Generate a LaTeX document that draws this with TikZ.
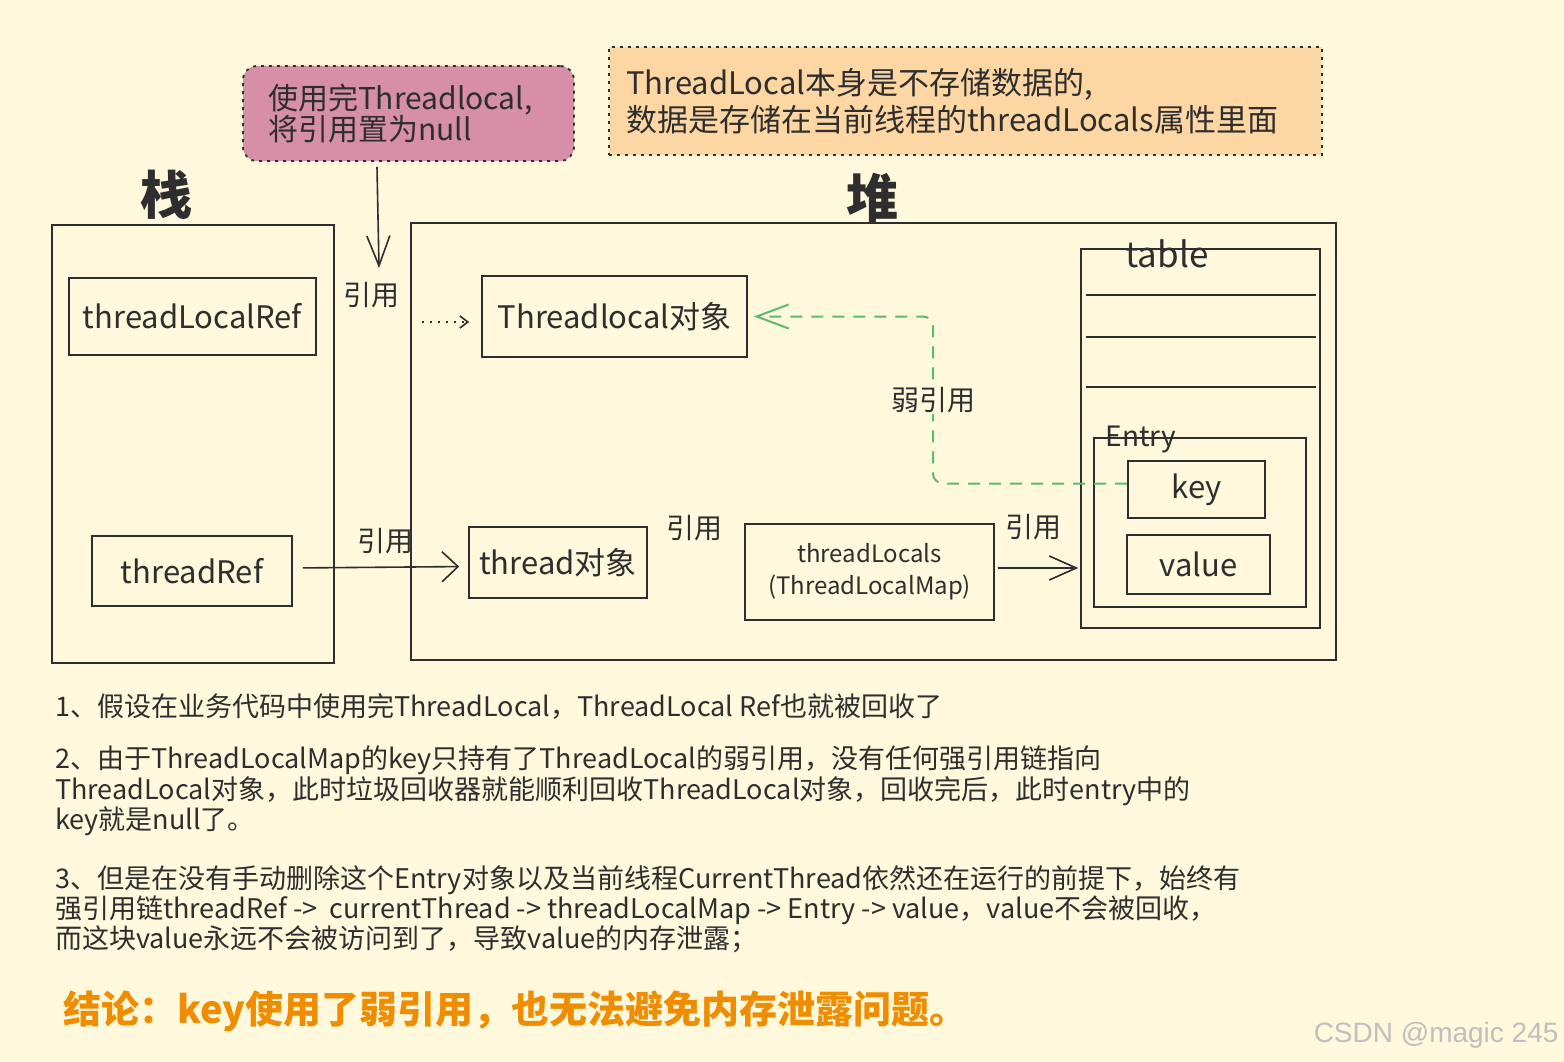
\documentclass[tikz,border=0pt]{standalone}
\usepackage{fontspec}
\setmainfont{Noto Sans CJK SC}
\newfontfamily\wmfont{Liberation Sans}
\usetikzlibrary{arrows.meta}
\definecolor{paper}{HTML}{FEF8DC}
\definecolor{pinkbox}{HTML}{D68FA6}
\definecolor{peach}{HTML}{FDD7A3}
\definecolor{inkgray}{HTML}{2E2E2E}
\definecolor{weakgreen}{HTML}{5DBB6A}
\definecolor{notecol}{HTML}{F08C00}
\begin{document}
\begin{tikzpicture}[x=1pt, y=-1pt,
    region/.style={draw=inkgray, line width=1.6pt, inner sep=0pt},
    box/.style={region, text=inkgray, font=\fontsize{31}{35}\selectfont},
    note/.style={draw=inkgray, line width=1.8pt, dash pattern=on 3pt off 5pt, inner xsep=0pt,
        align=left, text=inkgray, font=\fontsize{30}{31}\selectfont},
    reflabel/.style={text=inkgray, font=\fontsize{28}{30}\selectfont},
    refarrow/.style={draw=inkgray, line width=1.6pt, -{Straight Barb[length=16pt,width=30pt]}},
    weakref/.style={draw=weakgreen, line width=2pt, dash pattern=on 12pt off 9pt, rounded corners=10pt,
        -{Straight Barb[length=32pt,width=24pt]}},
    para/.style={anchor=north west, inner sep=0pt, align=left, text=inkgray, font=\fontsize{27}{29}\selectfont}]
    \fill[paper] (0,0) rectangle (1564,1062);

    % notes above
    \node[note, fill=pinkbox, rounded corners=14pt, minimum width=331pt, minimum height=95pt, text width=281pt]
        (usednote) at (408.5,113.5) {使用完Threadlocal,\\将引用置为null};
    \node[note, fill=peach, minimum width=713pt, minimum height=108pt, text width=679pt,
        font=\fontsize{31}{37}\selectfont]
        (storenote) at (965.5,101) {ThreadLocal本身是不存储数据的,\\数据是存储在当前线程的threadLocals属性里面};

    % stack and heap
    \node[region, minimum width=282pt, minimum height=438pt] (stack) at (193,444) {};
    \node[region, minimum width=925pt, minimum height=437pt] (heap) at (873.5,441.5) {};
    \node[text=inkgray, font=\fontsize{52}{54}\selectfont\bfseries] (stacktitle) at (166,195) {栈};
    \node[text=inkgray, font=\fontsize{52}{54}\selectfont\bfseries] (heaptitle) at (872,198) {堆};

    \node[box, minimum width=247pt, minimum height=77pt] (tlref) at (192.5,316.5) {threadLocalRef};
    \node[box, minimum width=200pt, minimum height=70pt] (threadref) at (192,571) {threadRef};
    \node[box, minimum width=265pt, minimum height=81pt] (tlobj) at (614.5,316.5) {Threadlocal对象};
    \node[box, minimum width=178pt, minimum height=71pt] (threadobj) at (558,562.5) {thread对象};
    \node[box, minimum width=249pt, minimum height=96pt, align=center, font=\fontsize{24}{32}\selectfont]
        (tlmap) at (869.5,572) {threadLocals\\(ThreadLocalMap)};

    % table with its slots
    \node[region, minimum width=239pt, minimum height=379pt] (table) at (1200.5,438.5) {};
    \foreach \ly in {295,337,387}
        \draw[inkgray, line width=1.6pt] (1086,\ly) -- (1316,\ly);
    \node[text=inkgray, font=\fontsize{35}{36}\selectfont] (tablelabel) at (1167,254) {table};
    \node[region, minimum width=212pt, minimum height=169pt] (entry) at (1200,522.5) {};
    \node[text=inkgray, font=\fontsize{28}{30}\selectfont] (entrylabel) at (1141,440) {Entry};
    \node[box, minimum width=137pt, minimum height=57pt] (key) at (1196.5,489.5) {key};
    \node[box, minimum width=143pt, minimum height=59pt] (value) at (1198.5,564.5) {value};

    % references
    \coordinate (refend) at (379,268);
    \draw[refarrow, -{Straight Barb[length=30pt,width=23pt]}] ([xshift=-31.5pt,yshift=-5pt]usednote.south) -- (refend);
    \node[reflabel] (reflabel1) at (371,295) {引用};
    \coordinate (dotstart) at (422,322);
    \draw[inkgray, line width=1.6pt, dash pattern=on 2pt off 6pt, shorten >=12pt,
        -{Straight Barb[length=8pt,width=12pt]}] (dotstart) -- (dotstart -| tlobj.west);
    \draw[refarrow, shorten <=10pt, shorten >=9pt] ([yshift=3pt]threadref.east) -- ([yshift=-4pt]threadobj.west);
    \node[reflabel] (reflabel2) at (385,541) {引用};
    \node[reflabel] (reflabel3) at (694,528) {引用};
    \draw[refarrow, -{Straight Barb[length=27pt,width=24pt]}, shorten <=3pt, shorten >=2pt]
        ([yshift=4pt]tlmap.east) -- ([yshift=4pt]tlmap.east -| table.west);
    \node[reflabel] (reflabel4) at (1033,527) {引用};

    % weak reference from key
    \coordinate (bend) at (933,400);
    \draw[weakref, shorten >=6pt] ([yshift=6pt]key.west) -| (bend) |- (tlobj.east);
    \node[reflabel, fill=paper, inner sep=1pt] (weaklabel) at (bend) {弱引用};

    % explanation
    \node[para] (point1) at (55,693) {1、假设在业务代码中使用完ThreadLocal，ThreadLocal Ref也就被回收了};
    \node[para] (point2) at (55,746) {2、由于ThreadLocalMap的key只持有了ThreadLocal的弱引用，没有任何强引用链指向\\ThreadLocal对象，此时垃圾回收器就能顺利回收ThreadLocal对象，回收完后，此时entry中的\\key就是null了。};
    \node[para] (point3) at (55,865) {3、但是在没有手动删除这个Entry对象以及当前线程CurrentThread依然还在运行的前提下，始终有\\强引用链threadRef ->\ \ currentThread -> threadLocalMap -> Entry -> value，value不会被回收，\\而这块value永远不会被访问到了，导致value的内存泄露；};
    \node[anchor=north west, inner sep=0pt, text=notecol, font=\fontsize{38}{40}\selectfont\bfseries]
        (conclusion) at (63,991) {结论：key使用了弱引用，也无法避免内存泄露问题。};
    \node[anchor=east, text=gray!50, font=\wmfont\fontsize{28}{30}\selectfont] (watermark) at (1562,1035) {CSDN @magic 245};
\end{tikzpicture}
\end{document}
